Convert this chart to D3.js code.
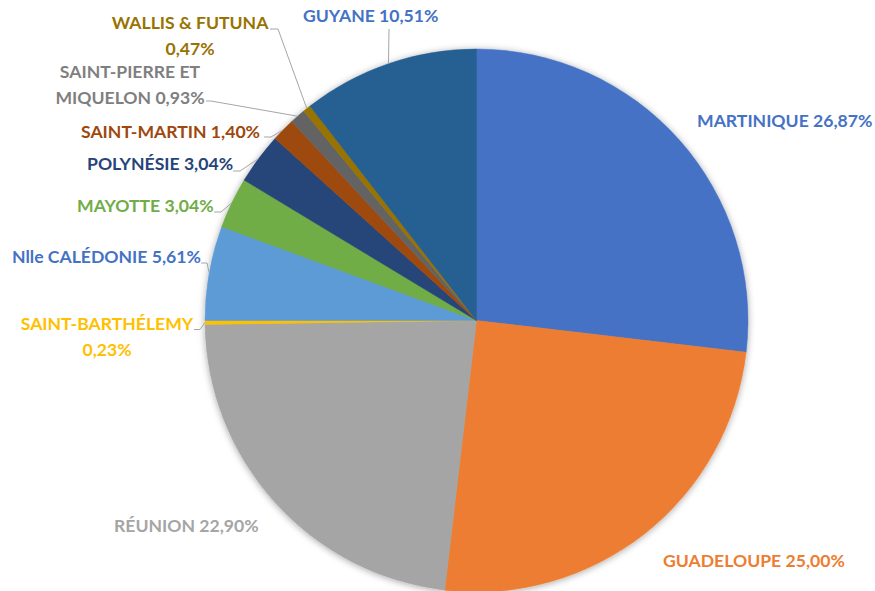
<!DOCTYPE html>
<html>
<head>
<meta charset="utf-8">
<script src="https://cdn.jsdelivr.net/npm/d3@7"></script>
<style>
  html, body { margin: 0; padding: 0; background: #fff; }
  svg { display: block; }
  text { font-family: Lato, "Open Sans", sans-serif; font-weight: 700; }
</style>
</head>
<body>
<svg id="chart" width="875" height="591"></svg>
<script>
// ---- Data ----
const categories = ["MARTINIQUE", "GUADELOUPE", "RÉUNION", "SAINT-BARTHÉLEMY", "Nlle CALÉDONIE",
  "MAYOTTE", "POLYNÉSIE", "SAINT-MARTIN", "SAINT-PIERRE ET MIQUELON", "WALLIS & FUTUNA", "GUYANE"];
const values = [26.87, 25.00, 22.90, 0.23, 5.61, 3.04, 3.04, 1.40, 0.93, 0.47, 10.51];

// ---- Styles ----
const sliceColors = ["#4472C4", "#ED7D31", "#A5A5A5", "#FFC000", "#5B9BD5",
  "#70AD47", "#264478", "#9E480E", "#636363", "#997300", "#255E91"];
const labelColors = ["#4472C4", "#ED7D31", "#A5A5A5", "#FFC000", "#4472C4",
  "#70AD47", "#264478", "#9E480E", "#7F7F7F", "#997300", "#4472C4"];

// ---- Layout (label placement) ----
// anchor, x, baseline y, words on first line (null = single line), leader start
const labelLayout = [
  { anchor: "start",  x: 697, y: 127,   split: null, leader: null },
  { anchor: "start",  x: 663, y: 566.5, split: null, leader: null },
  { anchor: "start",  x: 114, y: 531.5, split: null, leader: null },
  { anchor: "middle", x: 107, y: 330,   split: 1,    leader: [194, 329.5, 6] },
  { anchor: "start",  x: 12,  y: 263,   split: null, leader: [201, 263, 6] },
  { anchor: "start",  x: 77,  y: 212,   split: null, leader: [214, 212, 7] },
  { anchor: "start",  x: 87,  y: 170,   split: null, leader: [233, 171, 7] },
  { anchor: "start",  x: 81,  y: 137.5, split: null, leader: [264, 137, 7] },
  { anchor: "middle", x: 130, y: 78,    split: 2,    leader: [206, 101, 5] },
  { anchor: "middle", x: 190, y: 29,    split: 3,    leader: [270, 29, 8] },
  { anchor: "start",  x: 303, y: 22,    split: null, leader: [389, 29, 0] }
];
const lineHeight = 26;

const width = 875, height = 591;
const cx = 476.5, cy = 320.5, radius = 271.5;

const svg = d3.select("#chart");
const defs = svg.append("defs");
const f = defs.append("filter").attr("id", "shadow")
  .attr("x", "-10%").attr("y", "-10%").attr("width", "120%").attr("height", "120%");
f.append("feDropShadow").attr("dx", 0).attr("dy", 1).attr("stdDeviation", 3.5)
  .attr("flood-color", "#000").attr("flood-opacity", 0.35);

const fmt = v => d3.format(".2f")(v).replace(".", ",") + "%";

const pie = d3.pie().sort(null).value(d => d.value);
const data = categories.map((c, i) => ({ name: c, value: values[i], i }));
const arcs = pie(data);

const arc = d3.arc().innerRadius(0).outerRadius(radius);
const edgeArc = d3.arc().innerRadius(radius).outerRadius(radius);

const g = svg.append("g").attr("transform", `translate(${cx},${cy})`);
g.append("g").attr("filter", "url(#shadow)")
  .selectAll("path").data(arcs).join("path")
  .attr("d", arc)
  .attr("fill", d => sliceColors[d.data.i])
  .attr("stroke", d => sliceColors[d.data.i])
  .attr("stroke-width", 0.5);

// Leader lines
const leaders = svg.append("g").attr("fill", "none").attr("stroke", "#A6A6A6").attr("stroke-width", 1);
arcs.forEach(d => {
  const L = labelLayout[d.data.i];
  if (!L.leader) return;
  const [ex, ey] = edgeArc.centroid(d);
  const p = d3.path();
  p.moveTo(L.leader[0], L.leader[1]);
  if (L.leader[2] > 0) p.lineTo(L.leader[0] + L.leader[2], L.leader[1]);
  p.lineTo(cx + ex, cy + ey);
  leaders.append("path").attr("d", p.toString());
});

// Labels
const labels = svg.append("g").attr("font-size", 17.6);
arcs.forEach(d => {
  const L = labelLayout[d.data.i];
  const full = d.data.name + " " + fmt(d.data.value);
  let lines = [full];
  if (L.split !== null) {
    const words = full.split(" ");
    lines = [words.slice(0, L.split).join(" "), words.slice(L.split).join(" ")];
  }
  const t = labels.append("text")
    .attr("text-anchor", L.anchor)
    .attr("fill", labelColors[d.data.i]);
  lines.forEach((ln, k) => {
    t.append("tspan").attr("x", L.x).attr("y", L.y + k * lineHeight).text(ln);
  });
});
</script>
</body>
</html>
